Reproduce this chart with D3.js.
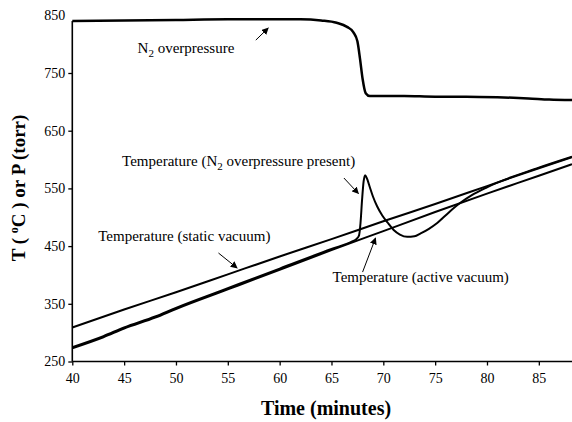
<!DOCTYPE html>
<html>
<head>
<meta charset="utf-8">
<script src="https://cdn.jsdelivr.net/npm/d3@7"></script>
<style>
  body { margin: 0; background: #fff; }
  svg { display: block; }
  text { font-family: "Liberation Serif", "Times New Roman", serif; fill: #000; }
</style>
</head>
<body>
<svg id="chart" width="572" height="422"></svg>
<script>
// time axis (minutes) and value axis (deg C or torr)
var xTicks = [40, 45, 50, 55, 60, 65, 70, 75, 80, 85];
var yTicks = [250, 350, 450, 550, 650, 750, 850];

// N2 overpressure (torr)
var presTime = [40, 45, 50, 55, 60, 62, 64, 65.5, 66.5, 67.1, 67.5, 67.75, 68.0, 68.3, 68.7, 70, 72, 75, 78, 81, 84, 86, 88.2];
var presVal  = [840, 841, 842, 843, 843, 843, 841, 837, 830, 821, 805, 775, 740, 715, 710, 710, 710, 709, 709, 708, 706, 704, 703];

// temperature, static vacuum
var staticTime = [40, 45, 50, 55, 60, 65, 70, 75, 80, 85, 88.2];
var staticVal  = [309, 340, 370, 401, 432, 462, 493, 523, 554, 585, 604];

// temperature, active vacuum
var activeTime = [40, 43, 45, 48, 50, 55, 60, 65, 70, 75, 80, 85, 88.2];
var activeVal  = [273, 292, 307, 326, 341, 375, 409, 443, 476, 509, 541, 572, 592];

// temperature, N2 overpressure present
var n2Time = [40, 43, 45, 48, 50, 55, 60, 65, 67.0, 67.4, 67.65, 67.8, 67.95, 68.1, 68.25, 68.45, 68.7, 69.0, 69.4, 69.9, 70.4, 71.0, 71.6, 72.3, 73.0, 73.6, 74.4, 75.2, 76.0, 76.8, 77.5, 78.5, 80, 85, 88.2];
var n2Val  = [275, 294, 309, 328, 343, 377, 411, 445, 458, 462, 468, 490, 530, 562, 573, 566, 552, 536, 519, 503, 491, 478, 470, 466, 467, 472, 480, 490, 503, 516, 526, 538, 552, 586, 605];

// annotations
var labelText = ["N", "Temperature (N", "Temperature (static vacuum)", "Temperature (active vacuum)"];
var labelRest = [" overpressure", " overpressure present)", "", ""];
var labelSub  = ["2", "2", "", ""];
var labelTime = [46.3, 44.8, 42.5, 65.1];
var labelVal  = [785, 588, 458, 387];

// arrows: from (time, value) to (time, value)
var arrowFrom = [[57.7, 807], [66.2, 568], [54.1, 438], [68.0, 405]];
var arrowTo   = [[58.9, 828], [67.6, 541], [55.9, 412], [69.25, 464]];

var svg = d3.select("#chart");
var x = d3.scaleLinear().domain([40, 88.2]).range([72.3, 572]);
var y = d3.scaleLinear().domain([250, 850]).range([361.5, 15.3]);

function zip(t, v) {
    return t.map(function (d, i) { return [d, v[i]]; });
}

var line = d3.line()
    .x(function (d) { return x(d[0]); })
    .y(function (d) { return y(d[1]); })
    .curve(d3.curveMonotoneX);

// axes
var xAxis = svg.append("g")
    .attr("transform", "translate(0," + y(250) + ")")
    .call(d3.axisBottom(x).tickValues(xTicks).tickSize(4).tickPadding(8).tickFormat(d3.format("d")));
xAxis.select(".domain").attr("d", "M" + x(40) + ",0H" + x(88.2)).attr("stroke-width", 1.6);
xAxis.selectAll("text").style("font-size", "14px");

var yAxis = svg.append("g")
    .attr("transform", "translate(" + x(40) + ",0)")
    .call(d3.axisLeft(y).tickValues(yTicks).tickSize(4).tickPadding(3).tickFormat(d3.format("d")));
yAxis.select(".domain").attr("d", "M0," + y(250) + "V" + y(840)).attr("stroke-width", 1.6);
yAxis.selectAll(".tick line").filter(function (d) { return d === 850; }).remove();
yAxis.selectAll("text").style("font-size", "14px");
svg.selectAll(".tick line").attr("stroke-width", 1.3);

// series
svg.append("path").datum(zip(staticTime, staticVal))
    .attr("d", line).attr("fill", "none").attr("stroke", "#000").attr("stroke-width", 2);
svg.append("path").datum(zip(activeTime, activeVal))
    .attr("d", line).attr("fill", "none").attr("stroke", "#000").attr("stroke-width", 2);
svg.append("path").datum(zip(n2Time, n2Val))
    .attr("d", line).attr("fill", "none").attr("stroke", "#000").attr("stroke-width", 2);
svg.append("path").datum(zip(presTime, presVal))
    .attr("d", line).attr("fill", "none").attr("stroke", "#000").attr("stroke-width", 2.5);

// arrow head
svg.append("defs").append("marker")
    .attr("id", "head")
    .attr("viewBox", "0 0 10 10")
    .attr("refX", 9).attr("refY", 5)
    .attr("markerWidth", 7).attr("markerHeight", 7)
    .attr("markerUnits", "userSpaceOnUse")
    .attr("orient", "auto")
    .append("path").attr("d", "M0,0L10,5L0,10Z").attr("fill", "#000");

arrowFrom.forEach(function (a, i) {
    svg.append("line")
        .attr("x1", x(a[0])).attr("y1", y(a[1]))
        .attr("x2", x(arrowTo[i][0])).attr("y2", y(arrowTo[i][1]))
        .attr("stroke", "#000").attr("stroke-width", 1)
        .attr("marker-end", "url(#head)");
});

// annotation labels
labelText.forEach(function (t, i) {
    var txt = svg.append("text")
        .attr("x", x(labelTime[i])).attr("y", y(labelVal[i]))
        .style("font-size", "15px");
    txt.append("tspan").text(t);
    if (labelSub[i]) {
        txt.append("tspan").attr("dy", 4).style("font-size", "11px").text(labelSub[i]);
        txt.append("tspan").attr("dy", -4).text(labelRest[i]);
    }
});

// axis titles
svg.append("text")
    .attr("x", 326).attr("y", 415)
    .attr("text-anchor", "middle")
    .style("font-size", "20px").style("font-weight", "bold")
    .text("Time (minutes)");

var yt = svg.append("text")
    .attr("transform", "translate(25,188) rotate(-90)")
    .attr("text-anchor", "middle")
    .style("font-size", "19px").style("font-weight", "bold");
yt.append("tspan").text("T ( ");
yt.append("tspan").attr("dy", -7).style("font-size", "12px").text("o");
yt.append("tspan").attr("dy", 7).text("C ) or P (torr)");
</script>
</body>
</html>
